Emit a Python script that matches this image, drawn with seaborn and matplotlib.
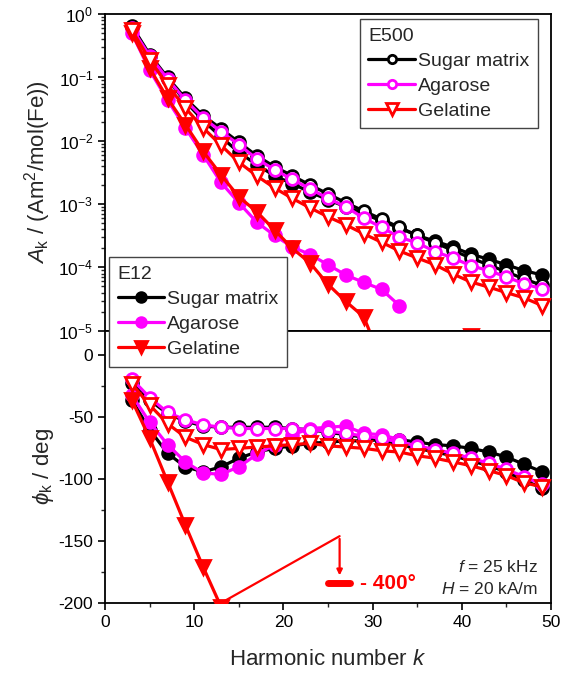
import numpy as np
import pandas as pd
import seaborn as sns
import matplotlib
matplotlib.use("Agg")
import matplotlib.pyplot as plt
from matplotlib.lines import Line2D
from matplotlib.ticker import MultipleLocator, LogLocator, NullFormatter

# harmonics
k = list(range(3, 50, 2))

# amplitude A_k (Am^2/mol(Fe))
amp_e500_sugar = [0.65, 0.23, 0.10, 0.047, 0.025, 0.0155, 0.0095, 0.0058, 0.0039, 0.0028,
                  2.0e-3, 1.45e-3, 1.05e-3, 7.8e-4, 5.8e-4, 4.3e-4, 3.2e-4, 2.45e-4, 1.86e-4,
                  1.41e-4, 1.10e-4, 8.5e-5, 6.6e-5, 5.2e-5]
amp_e500_agarose = [0.60, 0.22, 0.095, 0.044, 0.023, 0.014, 0.0087, 0.0052, 0.0035, 0.00245,
                    1.74e-3, 1.23e-3, 9.1e-4, 6.0e-4, 4.3e-4, 3.0e-4, 2.45e-4, 1.78e-4, 1.41e-4,
                    1.07e-4, 8.9e-5, 7.1e-5, 5.5e-5, 4.6e-5]
amp_e500_gelatine = [0.56, 0.19, 0.076, 0.033, 0.016, 0.0085, 0.0046, 0.0028, 0.0018, 0.00123,
                     8.7e-4, 6.3e-4, 4.7e-4, 3.4e-4, 2.5e-4, 1.82e-4, 1.41e-4, 1.10e-4, 7.9e-5,
                     5.9e-5, 4.9e-5, 4.0e-5, 3.3e-5, 2.5e-5]
amp_e12_sugar = [0.63, 0.22, 0.093, 0.042, 0.021, 0.0115, 0.0066, 0.0042, 0.0028, 0.0021,
                 1.55e-3, 1.17e-3, 9.1e-4, 7.1e-4, 5.4e-4, 4.2e-4, 3.2e-4, 2.6e-4, 2.1e-4,
                 1.62e-4, 1.35e-4, 1.10e-4, 8.9e-5, 7.6e-5]
amp_e12_agarose = [0.50, 0.13, 0.044, 0.016, 0.006, 0.0022, 0.00105, 5.2e-4, 3.2e-4, 2.1e-4,
                   1.6e-4, 1.1e-4, 7.6e-5, 5.8e-5, 4.5e-5, 2.5e-5]
amp_e12_gelatine = [0.50, 0.14, 0.047, 0.018, 0.0068, 0.0029, 0.0013, 7.6e-4, 3.9e-4, 2.0e-4,
                    1.17e-4, 5.4e-5, 2.9e-5, 1.66e-5, 3.4e-6, np.nan, np.nan, np.nan, np.nan, 8.3e-6]

# phase phi_k (deg)
ph_e500_sugar = [-22, -36, -47, -53, -57, -58, -58, -58, -58, -59, -60, -62, -64, -66, -69, -72,
                 -75, -78, -81, -85, -89, -94, -101, -107]
ph_e500_agarose = [-19, -34, -46, -52, -56, -58, -59, -59, -59, -59, -60, -61, -63, -65, -67, -70,
                   -73, -76, -79, -83, -87, -92, -98, -104]
ph_e500_gelatine = [-23, -40, -55, -66, -72, -76, -75, -74, -73, -72, -71, -73, -74, -75, -77, -78,
                    -81, -83, -86, -89, -93, -97, -103, -106]
ph_e12_sugar = [-36, -60, -79, -90, -94, -90, -83, -78, -75, -73, -71, -70, -69, -69, -68, -68,
                -70, -72, -73, -75, -78, -82, -88, -94]
ph_e12_agarose = [-32, -54, -72, -86, -95, -96, -90, -80, -72, -64, -59, -58, -57, -63, -64, -68]
ph_e12_gelatine = [-36, -67, -102, -137, -171, -203]

sns.set_theme(style="ticks")
plt.rcParams["font.family"] = ["Liberation Sans", "DejaVu Sans"]
plt.rcParams["mathtext.fontset"] = "custom"
plt.rcParams["mathtext.rm"] = "Liberation Sans"
plt.rcParams["mathtext.it"] = "Liberation Sans:italic"
plt.rcParams["axes.unicode_minus"] = False

fig = plt.figure(figsize=(5.68, 6.75), dpi=100)
ax1 = fig.add_axes([0.185, 0.510, 0.785, 0.469])
ax2 = fig.add_axes([0.185, 0.1067, 0.785, 0.4033])

BLACK, MAG, RED = "black", "#ff00ff", "red"
lw, ms = 2.3, 8.5


def draw(ax, kk, y, color, marker, filled, z):
    sns.lineplot(x=kk[:len(y)], y=y, ax=ax, color=color, lw=lw, marker=marker,
                 markersize=ms if marker == "o" else ms + 1,
                 markerfacecolor=color if filled else "white",
                 markeredgecolor=color, markeredgewidth=2.0, zorder=z,
                 estimator=None, sort=False)


for ax, data in [(ax1, [amp_e12_sugar, amp_e500_sugar, amp_e12_agarose, amp_e500_agarose,
                        amp_e12_gelatine, amp_e500_gelatine]),
                 (ax2, [ph_e12_sugar, ph_e500_sugar, ph_e12_agarose, ph_e500_agarose,
                        ph_e12_gelatine, ph_e500_gelatine])]:
    styles = [(BLACK, "o", True), (BLACK, "o", False), (MAG, "o", True), (MAG, "o", False),
              (RED, "v", True), (RED, "v", False)]
    for i, (y, (c, m, f)) in enumerate(zip(data, styles)):
        draw(ax, k, y, c, m, f, 3 + i)

# top panel
ax1.set_yscale("log")
ax1.set_ylim(1e-5, 1)
ax1.set_xlim(0, 50)
ax1.yaxis.set_major_locator(LogLocator(base=10, numticks=10))
ax1.yaxis.set_minor_locator(LogLocator(base=10, subs=np.arange(2, 10), numticks=20))
ax1.yaxis.set_minor_formatter(NullFormatter())
ax1.set_xticks([])
ax1.set_ylabel(r"$A_\mathrm{k}$ / (Am$^2$/mol(Fe))", fontsize=16)

# bottom panel
ax2.set_xlim(0, 50)
ax2.set_ylim(-200, 20)
ax2.set_yticks([0, -50, -100, -150, -200])
ax2.yaxis.set_minor_locator(MultipleLocator(25))
ax2.xaxis.set_major_locator(MultipleLocator(10))
ax2.xaxis.set_minor_locator(MultipleLocator(5))
ax2.set_xlabel(r"Harmonic number $k$", fontsize=16, labelpad=14)
ax2.set_ylabel(r"$\phi_\mathrm{k}$ / deg", fontsize=16, labelpad=2)

for ax in (ax1, ax2):
    for s in ax.spines.values():
        s.set_linewidth(1.3)
        s.set_color("black")
    ax.tick_params(axis="both", which="major", direction="out", length=5, width=1.2,
                   labelsize=12.5, colors="black", right=False, top=False)
    ax.tick_params(axis="both", which="minor", direction="out", length=3, width=1.0,
                   right=False, top=False)
    ax.set_facecolor("white")
ax1.tick_params(axis="x", which="both", bottom=False)

# off-scale annotation
ax2.plot([13, 26.3], [-200, -146], color=RED, lw=1.6, clip_on=False, zorder=9)
ax2.annotate("", xy=(26.3, -180), xytext=(26.3, -146),
             arrowprops=dict(arrowstyle="-|>", color=RED, lw=1.6, mutation_scale=8), zorder=9)
ax2.plot([25.0, 27.5], [-184, -184], color=RED, lw=5, solid_capstyle="round", zorder=9)
ax2.text(28.6, -184, "- 400°", color=RED, fontsize=15, fontweight="bold",
         va="center", ha="left")
ax2.text(48.5, -171, r"$f$ = 25 kHz", fontsize=12.5, ha="right", va="center")
ax2.text(48.5, -189, r"$H$ = 20 kA/m", fontsize=12.5, ha="right", va="center")


def handles(filled):
    out = []
    for c, m in [(BLACK, "o"), (MAG, "o"), (RED, "v")]:
        out.append(Line2D([], [], color=c, lw=lw, marker=m,
                          markersize=(6 if not filled else 7) if m == "o" else 8,
                          markerfacecolor=c if filled else "white",
                          markeredgecolor=c, markeredgewidth=2.0))
    return out


labels = ["Sugar matrix", "Agarose", "Gelatine"]
leg_kw = dict(fontsize=14, title_fontsize=14, frameon=True, fancybox=False,
              framealpha=1, edgecolor="#444444", handlelength=2.4, handletextpad=0.15,
              labelspacing=0.38, borderpad=0.45, borderaxespad=0, alignment="left")
l1 = fig.legend(handles(False), labels, title="E500", loc="upper right",
                bbox_to_anchor=(0.947, 0.972), **leg_kw)
l2 = fig.legend(handles(True), labels, title="E12", loc="upper left",
                bbox_to_anchor=(0.192, 0.619), **leg_kw)
for l in (l1, l2):
    l.get_frame().set_linewidth(1.0)

fig.savefig("out.png", dpi=100, facecolor="white")
